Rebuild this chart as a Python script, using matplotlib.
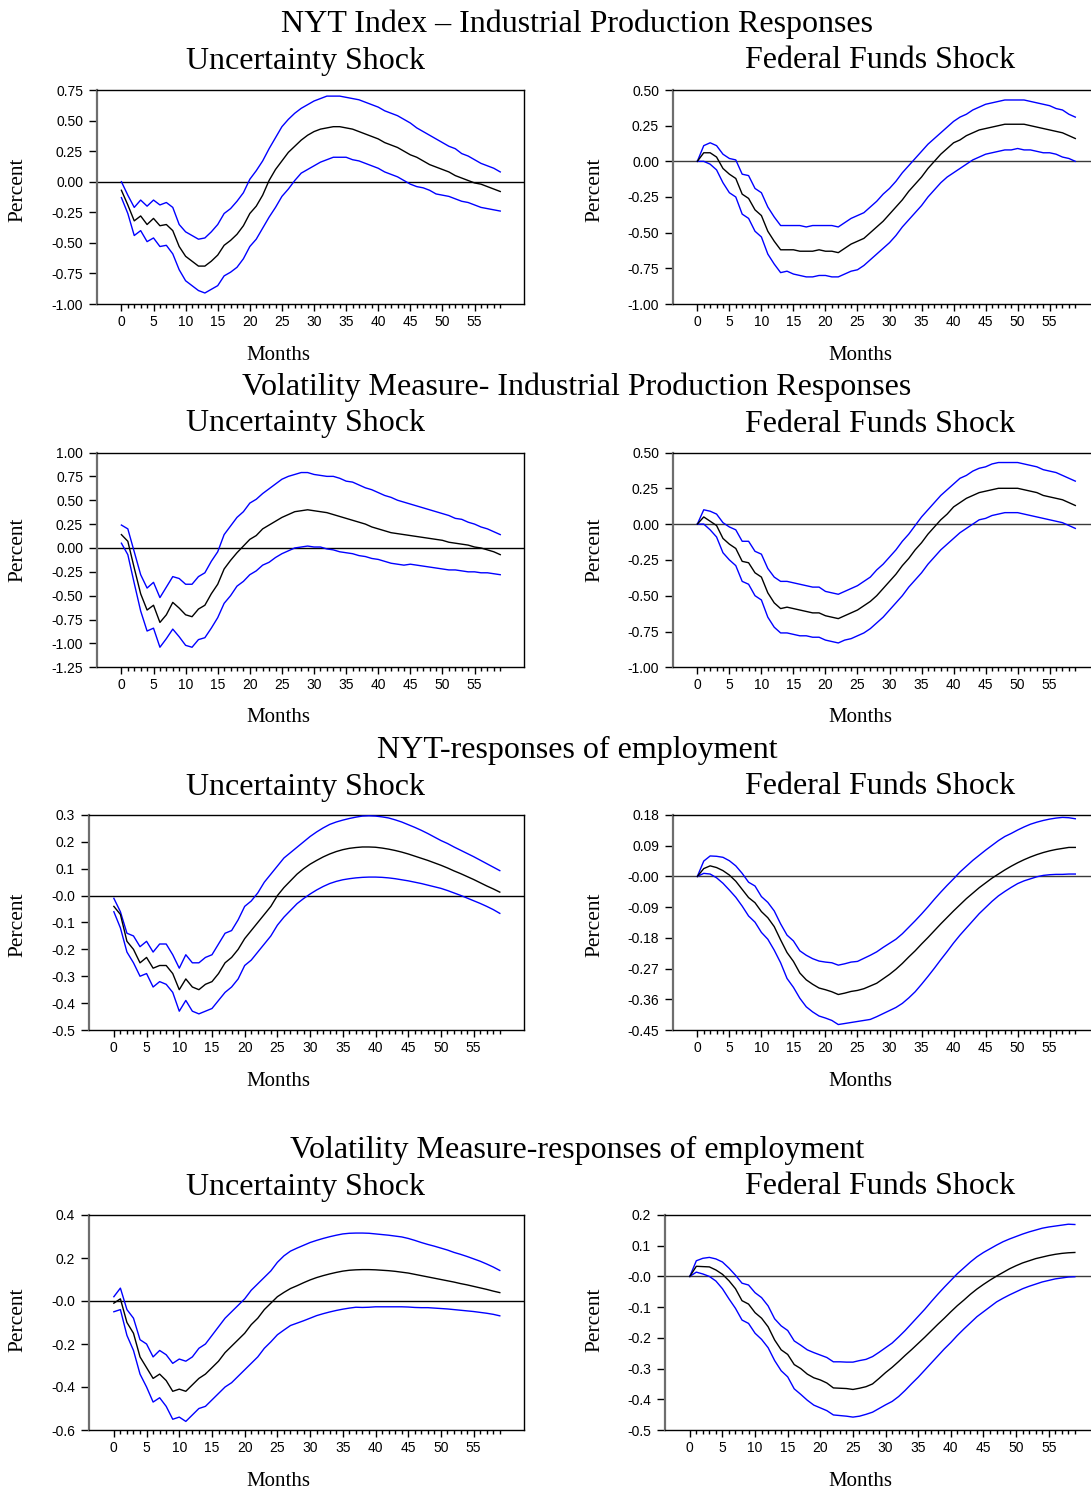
import numpy as np
import matplotlib
matplotlib.use("Agg")
import matplotlib.pyplot as plt
from matplotlib.ticker import FixedLocator

months = np.arange(60)

# ---- NYT index: industrial production ----
nyt_ip_unc_mid = [-0.07, -0.19, -0.32, -0.28, -0.35, -0.30, -0.36, -0.35, -0.40, -0.53,
                  -0.61, -0.65, -0.69, -0.69, -0.65, -0.60, -0.52, -0.48, -0.43, -0.36,
                  -0.26, -0.20, -0.11, 0.01, 0.10, 0.17, 0.24, 0.29, 0.34, 0.38,
                  0.41, 0.43, 0.44, 0.45, 0.45, 0.44, 0.43, 0.41, 0.39, 0.37,
                  0.35, 0.32, 0.30, 0.28, 0.25, 0.22, 0.20, 0.17, 0.14, 0.12,
                  0.10, 0.08, 0.05, 0.03, 0.01, -0.01, -0.02, -0.04, -0.06, -0.08]
nyt_ip_unc_hi = [0.00, -0.11, -0.21, -0.15, -0.20, -0.15, -0.19, -0.17, -0.21, -0.35,
                 -0.41, -0.44, -0.47, -0.46, -0.41, -0.35, -0.26, -0.22, -0.16, -0.09,
                 0.02, 0.09, 0.17, 0.27, 0.36, 0.45, 0.51, 0.56, 0.60, 0.63,
                 0.66, 0.68, 0.70, 0.70, 0.70, 0.69, 0.68, 0.67, 0.65, 0.63,
                 0.61, 0.58, 0.56, 0.54, 0.51, 0.48, 0.44, 0.41, 0.38, 0.35,
                 0.32, 0.29, 0.27, 0.23, 0.21, 0.18, 0.15, 0.13, 0.11, 0.08]
nyt_ip_unc_lo = [-0.13, -0.26, -0.44, -0.40, -0.49, -0.46, -0.53, -0.52, -0.59, -0.72,
                 -0.81, -0.85, -0.89, -0.91, -0.88, -0.85, -0.77, -0.74, -0.70, -0.63,
                 -0.53, -0.47, -0.38, -0.29, -0.21, -0.12, -0.06, 0.01, 0.07, 0.10,
                 0.13, 0.16, 0.18, 0.20, 0.20, 0.20, 0.18, 0.17, 0.15, 0.13,
                 0.11, 0.08, 0.06, 0.04, 0.01, -0.02, -0.04, -0.05, -0.07, -0.10,
                 -0.11, -0.12, -0.14, -0.16, -0.17, -0.19, -0.21, -0.22, -0.23, -0.24]

nyt_ip_ff_mid = [0.00, 0.06, 0.06, 0.03, -0.05, -0.09, -0.12, -0.23, -0.26, -0.34,
                 -0.38, -0.49, -0.56, -0.62, -0.62, -0.62, -0.63, -0.63, -0.63, -0.62,
                 -0.63, -0.63, -0.64, -0.61, -0.58, -0.56, -0.54, -0.50, -0.46, -0.42,
                 -0.37, -0.32, -0.27, -0.21, -0.16, -0.11, -0.05, 0.00, 0.05, 0.09,
                 0.13, 0.15, 0.18, 0.20, 0.22, 0.23, 0.24, 0.25, 0.26, 0.26,
                 0.26, 0.26, 0.25, 0.24, 0.23, 0.22, 0.21, 0.20, 0.18, 0.16]
nyt_ip_ff_hi = [0.00, 0.11, 0.13, 0.11, 0.05, 0.02, 0.01, -0.09, -0.10, -0.19,
                -0.22, -0.32, -0.39, -0.45, -0.45, -0.45, -0.45, -0.46, -0.45, -0.45,
                -0.45, -0.45, -0.46, -0.43, -0.40, -0.38, -0.36, -0.32, -0.28, -0.23,
                -0.19, -0.14, -0.08, -0.03, 0.02, 0.07, 0.12, 0.16, 0.20, 0.24,
                0.28, 0.31, 0.33, 0.36, 0.38, 0.40, 0.41, 0.42, 0.43, 0.43,
                0.43, 0.43, 0.42, 0.41, 0.40, 0.39, 0.37, 0.36, 0.33, 0.31]
nyt_ip_ff_lo = [0.00, 0.00, -0.02, -0.06, -0.15, -0.22, -0.25, -0.37, -0.40, -0.49,
                -0.53, -0.65, -0.72, -0.78, -0.77, -0.79, -0.80, -0.81, -0.81, -0.80,
                -0.80, -0.81, -0.81, -0.79, -0.77, -0.76, -0.73, -0.69, -0.65, -0.61,
                -0.57, -0.52, -0.46, -0.41, -0.36, -0.31, -0.25, -0.20, -0.15, -0.11,
                -0.08, -0.05, -0.02, 0.01, 0.03, 0.05, 0.06, 0.07, 0.08, 0.08,
                0.09, 0.08, 0.08, 0.07, 0.06, 0.06, 0.05, 0.03, 0.02, 0.00]

# ---- Volatility measure: industrial production ----
vol_ip_unc_mid = [0.14, 0.07, -0.21, -0.48, -0.65, -0.60, -0.78, -0.70, -0.57, -0.63,
                  -0.70, -0.72, -0.64, -0.60, -0.48, -0.38, -0.22, -0.13, -0.05, 0.02,
                  0.09, 0.13, 0.20, 0.24, 0.28, 0.32, 0.35, 0.38, 0.39, 0.40,
                  0.39, 0.38, 0.37, 0.35, 0.33, 0.31, 0.29, 0.27, 0.25, 0.22,
                  0.20, 0.18, 0.16, 0.15, 0.14, 0.13, 0.12, 0.11, 0.10, 0.09,
                  0.08, 0.06, 0.05, 0.04, 0.03, 0.01, 0.00, -0.02, -0.04, -0.07]
vol_ip_unc_hi = [0.24, 0.20, -0.04, -0.28, -0.42, -0.36, -0.52, -0.41, -0.30, -0.32,
                 -0.38, -0.38, -0.30, -0.26, -0.14, -0.04, 0.14, 0.23, 0.32, 0.38,
                 0.47, 0.51, 0.57, 0.62, 0.67, 0.72, 0.75, 0.77, 0.79, 0.79,
                 0.77, 0.76, 0.75, 0.75, 0.73, 0.70, 0.69, 0.66, 0.63, 0.61,
                 0.58, 0.55, 0.53, 0.50, 0.48, 0.46, 0.44, 0.42, 0.40, 0.38,
                 0.36, 0.34, 0.31, 0.30, 0.27, 0.25, 0.22, 0.20, 0.17, 0.14]
vol_ip_unc_lo = [0.05, -0.07, -0.37, -0.66, -0.87, -0.84, -1.04, -0.95, -0.85, -0.93,
                 -1.02, -1.04, -0.96, -0.94, -0.84, -0.73, -0.58, -0.50, -0.40, -0.35,
                 -0.28, -0.24, -0.18, -0.15, -0.10, -0.06, -0.03, 0.00, 0.01, 0.02,
                 0.01, 0.01, -0.01, -0.02, -0.04, -0.05, -0.06, -0.08, -0.09, -0.11,
                 -0.12, -0.14, -0.16, -0.17, -0.18, -0.17, -0.18, -0.19, -0.20, -0.21,
                 -0.22, -0.23, -0.23, -0.24, -0.25, -0.25, -0.26, -0.26, -0.27, -0.28]

vol_ip_ff_mid = [0.00, 0.05, 0.02, -0.01, -0.10, -0.14, -0.17, -0.26, -0.27, -0.34,
                 -0.37, -0.48, -0.55, -0.59, -0.58, -0.59, -0.60, -0.61, -0.62, -0.62,
                 -0.64, -0.65, -0.66, -0.64, -0.62, -0.60, -0.57, -0.54, -0.50, -0.45,
                 -0.40, -0.35, -0.29, -0.24, -0.18, -0.13, -0.07, -0.02, 0.03, 0.07,
                 0.12, 0.15, 0.18, 0.20, 0.22, 0.23, 0.24, 0.25, 0.25, 0.25,
                 0.25, 0.24, 0.23, 0.22, 0.20, 0.19, 0.18, 0.17, 0.15, 0.13]
vol_ip_ff_hi = [0.00, 0.10, 0.09, 0.07, 0.01, -0.02, -0.04, -0.12, -0.12, -0.19,
                -0.21, -0.31, -0.37, -0.40, -0.40, -0.41, -0.42, -0.43, -0.44, -0.44,
                -0.47, -0.48, -0.49, -0.47, -0.45, -0.43, -0.40, -0.37, -0.32, -0.28,
                -0.23, -0.18, -0.12, -0.07, -0.01, 0.05, 0.10, 0.15, 0.20, 0.24,
                0.28, 0.32, 0.34, 0.37, 0.39, 0.40, 0.42, 0.43, 0.43, 0.43,
                0.43, 0.42, 0.41, 0.40, 0.38, 0.37, 0.36, 0.34, 0.32, 0.30]
vol_ip_ff_lo = [0.00, 0.00, -0.04, -0.09, -0.20, -0.25, -0.29, -0.40, -0.42, -0.50,
                -0.53, -0.65, -0.72, -0.76, -0.76, -0.77, -0.78, -0.78, -0.79, -0.79,
                -0.81, -0.82, -0.83, -0.81, -0.80, -0.78, -0.76, -0.73, -0.69, -0.65,
                -0.60, -0.55, -0.50, -0.44, -0.39, -0.34, -0.28, -0.23, -0.18, -0.14,
                -0.10, -0.06, -0.03, 0.00, 0.03, 0.04, 0.06, 0.07, 0.08, 0.08,
                0.08, 0.07, 0.06, 0.05, 0.04, 0.03, 0.02, 0.01, -0.01, -0.03]

# ---- NYT index: employment ----
nyt_emp_unc_mid = [-0.04, -0.07, -0.17, -0.20, -0.25, -0.23, -0.27, -0.26, -0.26, -0.29,
                   -0.35, -0.31, -0.34, -0.35, -0.33, -0.32, -0.29, -0.25, -0.23, -0.20,
                   -0.16, -0.13, -0.10, -0.07, -0.04, 0.00, 0.03, 0.055, 0.08, 0.10,
                   0.117, 0.131, 0.144, 0.155, 0.164, 0.171, 0.176, 0.179, 0.181, 0.181,
                   0.180, 0.177, 0.173, 0.168, 0.162, 0.155, 0.147, 0.139, 0.131, 0.122,
                   0.113, 0.103, 0.092, 0.082, 0.071, 0.060, 0.048, 0.036, 0.025, 0.013]
nyt_emp_unc_hi = [-0.01, -0.06, -0.14, -0.15, -0.19, -0.17, -0.21, -0.18, -0.18, -0.22,
                  -0.27, -0.22, -0.25, -0.25, -0.23, -0.22, -0.18, -0.14, -0.13, -0.09,
                  -0.04, -0.02, 0.01, 0.05, 0.08, 0.11, 0.14, 0.16, 0.18, 0.20,
                  0.220, 0.237, 0.252, 0.265, 0.274, 0.281, 0.287, 0.292, 0.296, 0.297,
                  0.296, 0.293, 0.289, 0.282, 0.274, 0.264, 0.254, 0.243, 0.231, 0.218,
                  0.205, 0.194, 0.181, 0.169, 0.157, 0.145, 0.132, 0.119, 0.106, 0.093]
nyt_emp_unc_lo = [-0.06, -0.12, -0.21, -0.25, -0.30, -0.29, -0.34, -0.32, -0.33, -0.36,
                  -0.43, -0.39, -0.43, -0.44, -0.43, -0.42, -0.39, -0.36, -0.34, -0.31,
                  -0.26, -0.24, -0.21, -0.18, -0.15, -0.11, -0.08, -0.055, -0.030, -0.011,
                  0.006, 0.021, 0.034, 0.045, 0.053, 0.059, 0.063, 0.066, 0.068, 0.069,
                  0.069, 0.068, 0.066, 0.063, 0.059, 0.055, 0.050, 0.045, 0.039, 0.033,
                  0.027, 0.019, 0.010, 0.001, -0.009, -0.019, -0.029, -0.040, -0.052, -0.066]

nyt_emp_ff_mid = [0.000, 0.023, 0.031, 0.026, 0.017, 0.004, -0.014, -0.038, -0.062, -0.077,
                  -0.103, -0.121, -0.147, -0.186, -0.223, -0.249, -0.283, -0.303, -0.316, -0.327,
                  -0.332, -0.338, -0.346, -0.342, -0.337, -0.334, -0.329, -0.321, -0.313, -0.300,
                  -0.287, -0.272, -0.255, -0.236, -0.218, -0.198, -0.179, -0.159, -0.139, -0.120,
                  -0.101, -0.083, -0.065, -0.049, -0.033, -0.019, -0.005, 0.007, 0.019, 0.030,
                  0.040, 0.049, 0.057, 0.064, 0.070, 0.075, 0.079, 0.082, 0.085, 0.085]
nyt_emp_ff_hi = [0.000, 0.045, 0.060, 0.059, 0.056, 0.046, 0.031, 0.009, -0.017, -0.028,
                 -0.059, -0.076, -0.101, -0.139, -0.172, -0.189, -0.218, -0.231, -0.241, -0.248,
                 -0.251, -0.253, -0.260, -0.256, -0.251, -0.249, -0.240, -0.231, -0.221, -0.208,
                 -0.196, -0.184, -0.168, -0.149, -0.130, -0.110, -0.089, -0.067, -0.046, -0.026,
                 -0.007, 0.013, 0.030, 0.047, 0.062, 0.077, 0.091, 0.105, 0.117, 0.126,
                 0.136, 0.145, 0.153, 0.159, 0.164, 0.168, 0.171, 0.173, 0.172, 0.169]
nyt_emp_ff_lo = [0.000, 0.009, 0.007, -0.004, -0.020, -0.040, -0.061, -0.087, -0.116, -0.134,
                 -0.164, -0.184, -0.216, -0.253, -0.299, -0.325, -0.357, -0.382, -0.397, -0.409,
                 -0.415, -0.422, -0.434, -0.431, -0.428, -0.425, -0.422, -0.419, -0.411, -0.402,
                 -0.393, -0.384, -0.372, -0.356, -0.338, -0.316, -0.293, -0.269, -0.244, -0.220,
                 -0.195, -0.172, -0.151, -0.130, -0.109, -0.091, -0.073, -0.057, -0.044, -0.032,
                 -0.021, -0.013, -0.007, -0.001, 0.003, 0.005, 0.006, 0.006, 0.007, 0.007]

# ---- Volatility measure: employment ----
vol_emp_unc_mid = [-0.01, 0.01, -0.10, -0.15, -0.26, -0.31, -0.36, -0.34, -0.37, -0.42,
                   -0.41, -0.42, -0.39, -0.36, -0.34, -0.31, -0.28, -0.24, -0.21, -0.18,
                   -0.15, -0.11, -0.08, -0.04, -0.01, 0.020, 0.040, 0.058, 0.071, 0.085,
                   0.098, 0.109, 0.118, 0.126, 0.133, 0.139, 0.143, 0.145, 0.146, 0.146,
                   0.145, 0.143, 0.141, 0.138, 0.134, 0.130, 0.124, 0.118, 0.112, 0.106,
                   0.100, 0.094, 0.088, 0.081, 0.075, 0.068, 0.061, 0.054, 0.046, 0.039]
vol_emp_unc_hi = [0.02, 0.06, -0.04, -0.08, -0.18, -0.20, -0.26, -0.23, -0.25, -0.29,
                  -0.27, -0.28, -0.26, -0.22, -0.20, -0.16, -0.12, -0.08, -0.05, -0.02,
                  0.01, 0.05, 0.08, 0.11, 0.14, 0.180, 0.210, 0.232, 0.246, 0.259,
                  0.272, 0.282, 0.291, 0.299, 0.306, 0.312, 0.315, 0.316, 0.316, 0.315,
                  0.312, 0.309, 0.306, 0.302, 0.298, 0.291, 0.282, 0.272, 0.263, 0.255,
                  0.246, 0.237, 0.226, 0.217, 0.207, 0.196, 0.185, 0.172, 0.158, 0.142]
vol_emp_unc_lo = [-0.05, -0.04, -0.16, -0.23, -0.34, -0.40, -0.47, -0.45, -0.49, -0.55,
                  -0.54, -0.56, -0.53, -0.50, -0.49, -0.46, -0.43, -0.40, -0.38, -0.35,
                  -0.32, -0.29, -0.26, -0.22, -0.19, -0.157, -0.135, -0.114, -0.103, -0.092,
                  -0.080, -0.068, -0.059, -0.051, -0.044, -0.038, -0.033, -0.029, -0.030, -0.029,
                  -0.027, -0.027, -0.027, -0.027, -0.027, -0.028, -0.030, -0.031, -0.031, -0.033,
                  -0.035, -0.037, -0.040, -0.043, -0.046, -0.049, -0.053, -0.057, -0.062, -0.069]

vol_emp_ff_mid = [0.000, 0.033, 0.032, 0.031, 0.021, 0.007, -0.014, -0.040, -0.079, -0.090,
                  -0.118, -0.136, -0.164, -0.207, -0.239, -0.254, -0.287, -0.300, -0.318, -0.330,
                  -0.337, -0.347, -0.363, -0.364, -0.365, -0.368, -0.364, -0.359, -0.350, -0.332,
                  -0.313, -0.296, -0.277, -0.257, -0.238, -0.218, -0.198, -0.177, -0.156, -0.136,
                  -0.115, -0.095, -0.077, -0.058, -0.041, -0.026, -0.012, 0.001, 0.013, 0.025,
                  0.035, 0.044, 0.051, 0.058, 0.063, 0.068, 0.072, 0.075, 0.077, 0.078]
vol_emp_ff_hi = [0.000, 0.051, 0.059, 0.062, 0.057, 0.047, 0.027, 0.004, -0.022, -0.028,
                 -0.053, -0.069, -0.096, -0.138, -0.161, -0.176, -0.210, -0.224, -0.239, -0.248,
                 -0.256, -0.264, -0.278, -0.278, -0.279, -0.279, -0.274, -0.270, -0.261, -0.247,
                 -0.232, -0.217, -0.197, -0.176, -0.153, -0.130, -0.107, -0.082, -0.058, -0.035,
                 -0.013, 0.009, 0.028, 0.047, 0.064, 0.078, 0.090, 0.102, 0.113, 0.122,
                 0.130, 0.138, 0.145, 0.151, 0.157, 0.161, 0.164, 0.167, 0.170, 0.169]
vol_emp_ff_lo = [0.000, 0.014, 0.008, 0.000, -0.015, -0.040, -0.073, -0.104, -0.142, -0.153,
                 -0.185, -0.205, -0.232, -0.274, -0.307, -0.327, -0.366, -0.384, -0.403, -0.419,
                 -0.428, -0.437, -0.451, -0.453, -0.455, -0.458, -0.455, -0.449, -0.442, -0.430,
                 -0.418, -0.407, -0.391, -0.371, -0.349, -0.328, -0.305, -0.282, -0.259, -0.236,
                 -0.215, -0.192, -0.171, -0.151, -0.131, -0.115, -0.099, -0.083, -0.071, -0.060,
                 -0.050, -0.040, -0.032, -0.025, -0.018, -0.013, -0.008, -0.005, -0.002, -0.001]

# y-axis tick values and their printed labels
ticks_ip_unc1 = [0.75, 0.50, 0.25, 0.00, -0.25, -0.50, -0.75, -1.00]
labels_ip_unc1 = ["0.75", "0.50", "0.25", "0.00", "-0.25", "-0.50", "-0.75", "-1.00"]
ticks_ip_ff = [0.50, 0.25, 0.00, -0.25, -0.50, -0.75, -1.00]
labels_ip_ff = ["0.50", "0.25", "0.00", "-0.25", "-0.50", "-0.75", "-1.00"]
ticks_ip_unc2 = [1.00, 0.75, 0.50, 0.25, 0.00, -0.25, -0.50, -0.75, -1.00, -1.25]
labels_ip_unc2 = ["1.00", "0.75", "0.50", "0.25", "0.00", "-0.25", "-0.50", "-0.75", "-1.00", "-1.25"]
ticks_emp_unc1 = [0.3, 0.2, 0.1, 0.0, -0.1, -0.2, -0.3, -0.4, -0.5]
labels_emp_unc1 = ["0.3", "0.2", "0.1", "-0.0", "-0.1", "-0.2", "-0.3", "-0.4", "-0.5"]
ticks_emp_ff1 = [0.18, 0.09, 0.00, -0.09, -0.18, -0.27, -0.36, -0.45]
labels_emp_ff1 = ["0.18", "0.09", "-0.00", "-0.09", "-0.18", "-0.27", "-0.36", "-0.45"]
ticks_emp_unc2 = [0.4, 0.2, 0.0, -0.2, -0.4, -0.6]
labels_emp_unc2 = ["0.4", "0.2", "-0.0", "-0.2", "-0.4", "-0.6"]
ticks_emp_ff2 = [0.2, 0.1, 0.0, -0.1, -0.2, -0.3, -0.4, -0.5]
labels_emp_ff2 = ["0.2", "0.1", "-0.0", "-0.1", "-0.2", "-0.3", "-0.4", "-0.5"]

row_titles = ["NYT Index \u2013 Industrial Production Responses",
              "Volatility Measure- Industrial Production Responses",
              "NYT-responses of employment",
              "Volatility Measure-responses of employment"]
col_titles = ["Uncertainty Shock", "Federal Funds Shock"]

W, H = 1091, 1489
fig = plt.figure(figsize=(W / 100, H / 100), dpi=100)
fig.patch.set_facecolor("white")

SERIF = ["Liberation Serif", "DejaVu Serif"]
SANS = ["Liberation Sans", "DejaVu Sans"]
XLIM = (-3.8, 62.7)


def px_axes(x0, x1, y_top, y_bot):
    return fig.add_axes([x0 / W, 1 - y_bot / H, (x1 - x0) / W, (y_bot - y_top) / H])


def panel(ax, lo, mid, hi, ticks, labels, zero_color="black"):
    ax.set_xlim(*XLIM)
    ax.set_ylim(min(ticks), max(ticks))
    ax.axhline(0, color=zero_color, lw=1.0, zorder=1)
    ax.plot(months, hi, color="#0000ff", lw=1.0, zorder=3)
    ax.plot(months, lo, color="#0000ff", lw=1.0, zorder=3)
    ax.plot(months, mid, color="black", lw=1.0, zorder=4)
    ax.yaxis.set_major_locator(FixedLocator(ticks))
    ax.set_yticklabels(labels)
    ax.set_xticks(np.arange(0, 56, 5))
    ax.set_xticks(months, minor=True)
    ax.tick_params(axis="y", direction="out", length=6, width=1.0, pad=4,
                   labelsize=10, color="black")
    ax.tick_params(axis="x", which="major", direction="out", length=5, width=1.0,
                   pad=3, labelsize=10)
    ax.tick_params(axis="x", which="minor", direction="out", length=3, width=1.0)
    for lab in ax.get_xticklabels() + ax.get_yticklabels():
        lab.set_fontfamily(SANS)
    ax.spines["left"].set_color("#6e6e6e")
    ax.spines["left"].set_linewidth(1.6)
    for s in ("top", "bottom", "right"):
        ax.spines[s].set_color("black")
        ax.spines[s].set_linewidth(1.0)


rows = [
    (90, 304, 97, 524, 673, 1099,
     (nyt_ip_unc_lo, nyt_ip_unc_mid, nyt_ip_unc_hi, ticks_ip_unc1, labels_ip_unc1),
     (nyt_ip_ff_lo, nyt_ip_ff_mid, nyt_ip_ff_hi, ticks_ip_ff, labels_ip_ff)),
    (452.5, 667.3, 97, 524, 673, 1099,
     (vol_ip_unc_lo, vol_ip_unc_mid, vol_ip_unc_hi, ticks_ip_unc2, labels_ip_unc2),
     (vol_ip_ff_lo, vol_ip_ff_mid, vol_ip_ff_hi, ticks_ip_ff, labels_ip_ff)),
    (815, 1030, 89, 524, 673, 1099,
     (nyt_emp_unc_lo, nyt_emp_unc_mid, nyt_emp_unc_hi, ticks_emp_unc1, labels_emp_unc1),
     (nyt_emp_ff_lo, nyt_emp_ff_mid, nyt_emp_ff_hi, ticks_emp_ff1, labels_emp_ff1)),
    (1215, 1430, 89, 524, 665, 1099,
     (vol_emp_unc_lo, vol_emp_unc_mid, vol_emp_unc_hi, ticks_emp_unc2, labels_emp_unc2),
     (vol_emp_ff_lo, vol_emp_ff_mid, vol_emp_ff_hi, ticks_emp_ff2, labels_emp_ff2)),
]

title_y = [24, 387, 750, 1150]
sub_y = [61, 424, 787, 1187]
months_y = [355, 718, 1081, 1481]
percent_y = [190, 550, 925, 1320]

for i, (yt, yb, lx0, lx1, rx0, rx1, left_data, right_data) in enumerate(rows):
    axl = px_axes(lx0, lx1, yt, yb)
    panel(axl, *left_data)
    axr = px_axes(rx0, rx1, yt, yb)
    panel(axr, *right_data, zero_color="#3a3a3a")

    fig.text(577 / W, 1 - title_y[i] / H, row_titles[i], ha="center", va="center",
             fontsize=23, family=SERIF)
    fig.text(305 / W, 1 - sub_y[i] / H, col_titles[0], ha="center", va="center",
             fontsize=23, family=SERIF)
    fig.text(880 / W, 1 - sub_y[i] / H, col_titles[1], ha="center", va="center",
             fontsize=23, family=SERIF)
    fig.text(278 / W, 1 - months_y[i] / H, "Months", ha="center", va="center",
             fontsize=15, family=SERIF)
    fig.text(860 / W, 1 - months_y[i] / H, "Months", ha="center", va="center",
             fontsize=15, family=SERIF)
    fig.text(18 / W, 1 - percent_y[i] / H, "Percent", ha="center", va="center",
             rotation=90, fontsize=15.5, family=SERIF)
    fig.text(595 / W, 1 - percent_y[i] / H, "Percent", ha="center", va="center",
             rotation=90, fontsize=15.5, family=SERIF)

fig.savefig("out.png", dpi=100, facecolor="white")
